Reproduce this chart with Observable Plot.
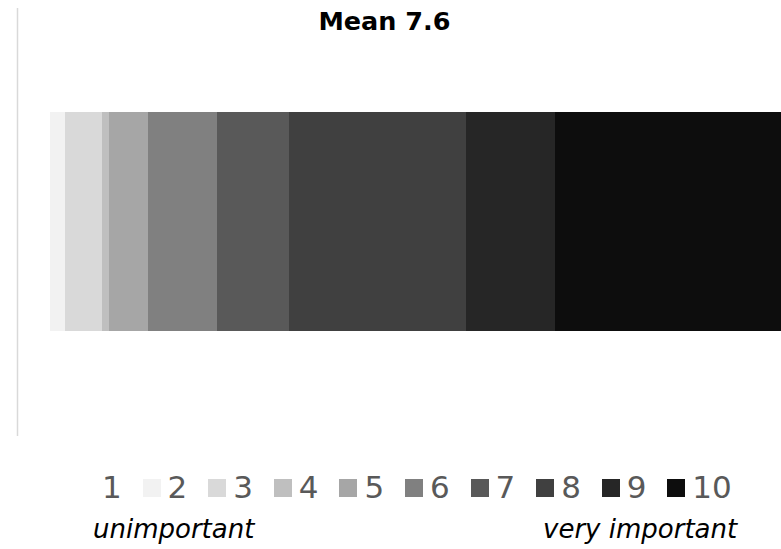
<!DOCTYPE html>
<html>
<head>
<meta charset="utf-8">
<script src="https://cdn.jsdelivr.net/npm/d3@7"></script>
<script src="https://cdn.jsdelivr.net/npm/@observablehq/plot@0.6"></script>
<style>
  html, body { margin: 0; padding: 0; background: #fff; }
  #wrap { position: relative; width: 781px; height: 549px; overflow: hidden; font-family: "DejaVu Sans", Verdana, sans-serif; }
  #chart { position: absolute; left: 0; top: 0; }
  #legend { position: absolute; left: 77px; top: 472px; height: 31px; display: flex; }
  .item { width: 65.6px; height: 31px; display: flex; align-items: center; flex: none; }
  .sw { width: 18px; height: 18px; flex: none; }
  .lab { margin-left: 7px; font-size: 31px; line-height: 31px; color: #595959; white-space: nowrap; }
  .end { position: absolute; top: 516px; font-size: 26px; line-height: 26px; font-style: italic; color: #000; white-space: nowrap; }
</style>
</head>
<body>
<div id="wrap">
  <div id="chart"></div>
  <div id="legend"></div>
</div>
<script>
const title = "Mean 7.6";
const categories = ["1", "2", "3", "4", "5", "6", "7", "8", "9", "10"];
const shares = [4.3, 1.9, 4.8, 0.9, 5.1, 9.0, 9.3, 23.0, 11.6, 30.1];
const colors = ["#ffffff", "#f2f2f2", "#d9d9d9", "#bfbfbf", "#a6a6a6", "#808080", "#595959", "#404040", "#262626", "#0d0d0d"];
const endLabels = ["unimportant", "very important"];

const data = categories.map((c, i) => ({category: c, value: shares[i], row: "all"}));

const chart = Plot.plot({
  width: 781,
  height: 440,
  marginTop: 8,
  marginBottom: 4,
  marginLeft: 17,
  marginRight: 0,
  style: {fontFamily: "DejaVu Sans, Verdana, sans-serif", background: "#fff"},
  x: {domain: [0, 100], range: [17, 787], axis: null},
  y: {domain: ["all"], padding: 0.321, axis: null},
  color: {domain: categories, range: colors},
  marks: [
    Plot.barX(data, Plot.stackX({x: "value", y: "row", fill: "category", order: null, shapeRendering: "crispEdges"})),
    Plot.ruleX([0], {stroke: "#d9d9d9", strokeWidth: 1.5}),
    Plot.text([title], {frameAnchor: "top", dx: -15, dy: 3, fontSize: 25.5, fontWeight: "bold", fill: "#000"})
  ]
});
document.getElementById("chart").appendChild(chart);

const legend = document.getElementById("legend");
categories.forEach((c, i) => {
  const item = document.createElement("div");
  item.className = "item";
  const sw = document.createElement("div");
  sw.className = "sw";
  sw.style.background = colors[i];
  const lab = document.createElement("span");
  lab.className = "lab";
  lab.textContent = c;
  item.appendChild(sw);
  item.appendChild(lab);
  legend.appendChild(item);
});

const wrap = document.getElementById("wrap");
const left = document.createElement("div");
left.className = "end";
left.style.left = "93px";
left.textContent = endLabels[0];
wrap.appendChild(left);
const right = document.createElement("div");
right.className = "end";
right.style.left = "543px";
right.textContent = endLabels[1];
wrap.appendChild(right);
</script>
</body>
</html>
